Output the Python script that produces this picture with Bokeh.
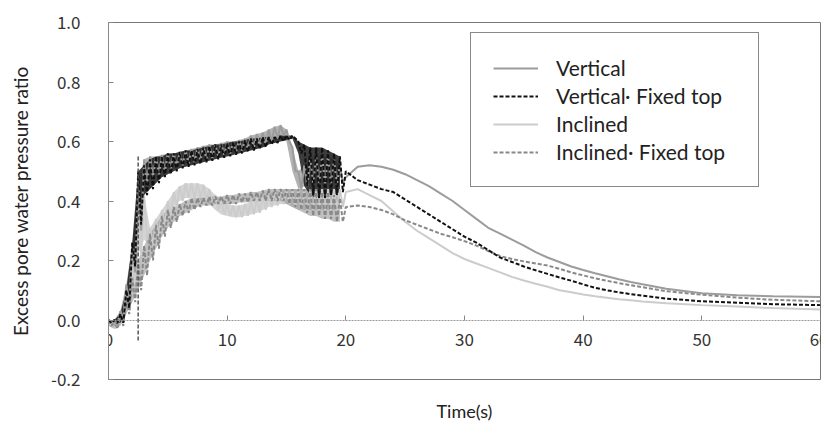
from bokeh.plotting import figure
from bokeh.models import (Range1d, FixedTicker, PrintfTickFormatter, Legend, LegendItem, LinearAxis)
from bokeh.embed import file_html
from bokeh.resources import INLINE

# ---- data ----
# shaking phase: oscillation envelope (upper / lower) sampled every 0.5 s from 0 to 19.5 s
T_SHAKE = [i * 0.5 for i in range(40)]

V_UP = [0.0, 0.0, 0.03, 0.12, 0.25, 0.45, 0.54, 0.55, 0.55, 0.555, 0.56, 0.56, 0.565, 0.57, 0.575, 0.58,
        0.585, 0.59, 0.59, 0.595, 0.60, 0.60, 0.605, 0.61, 0.62, 0.625, 0.63, 0.64, 0.65, 0.655, 0.64,
        0.58, 0.50, 0.52, 0.54, 0.55, 0.55, 0.55, 0.54, 0.52]
V_LO = [-0.01, -0.02, 0.0, 0.05, 0.16, 0.30, 0.46, 0.48, 0.49, 0.50, 0.51, 0.515, 0.52, 0.525, 0.53, 0.535,
        0.54, 0.545, 0.55, 0.555, 0.56, 0.565, 0.57, 0.575, 0.58, 0.585, 0.59, 0.60, 0.61, 0.62, 0.60,
        0.50, 0.44, 0.45, 0.46, 0.46, 0.46, 0.46, 0.46, 0.46]

VF_UP = [0.0, 0.0, 0.02, 0.10, 0.26, 0.50, 0.52, 0.54, 0.55, 0.55, 0.56, 0.56, 0.565, 0.57, 0.57, 0.575,
         0.58, 0.585, 0.59, 0.59, 0.595, 0.60, 0.60, 0.605, 0.61, 0.61, 0.615, 0.615, 0.615, 0.62, 0.62,
         0.62, 0.60, 0.59, 0.58, 0.58, 0.58, 0.57, 0.56, 0.55]
VF_LO = [-0.01, -0.01, -0.01, 0.04, 0.18, 0.32, 0.42, 0.44, 0.46, 0.48, 0.49, 0.50, 0.51, 0.515, 0.52, 0.525,
         0.53, 0.535, 0.54, 0.545, 0.55, 0.555, 0.56, 0.565, 0.57, 0.575, 0.58, 0.59, 0.595, 0.60, 0.605,
         0.61, 0.56, 0.45, 0.42, 0.41, 0.41, 0.42, 0.42, 0.43]
# short vertical excursion of the fixed-top record at about 2.5 s
VF_SPIKE_T = [2.5, 2.5]
VF_SPIKE_V = [0.55, -0.07]

I_UP = [0.0, 0.0, 0.03, 0.10, 0.22, 0.38, 0.42, 0.31, 0.34, 0.37, 0.40, 0.43, 0.45, 0.46, 0.46, 0.46,
        0.455, 0.44, 0.42, 0.40, 0.39, 0.385, 0.385, 0.39, 0.40, 0.41, 0.42, 0.425, 0.43, 0.435, 0.44,
        0.44, 0.44, 0.44, 0.44, 0.44, 0.44, 0.44, 0.44, 0.44]
I_LO = [-0.02, -0.02, 0.0, 0.04, 0.12, 0.22, 0.27, 0.25, 0.28, 0.32, 0.35, 0.38, 0.40, 0.41, 0.41, 0.41,
        0.40, 0.39, 0.37, 0.355, 0.35, 0.345, 0.345, 0.35, 0.355, 0.36, 0.37, 0.38, 0.385, 0.39, 0.39,
        0.38, 0.37, 0.37, 0.37, 0.37, 0.37, 0.37, 0.37, 0.38]

IF_UP = [0.0, 0.0, 0.02, 0.07, 0.14, 0.20, 0.25, 0.29, 0.32, 0.35, 0.37, 0.38, 0.39, 0.40, 0.41, 0.41,
         0.41, 0.415, 0.415, 0.415, 0.42, 0.42, 0.425, 0.425, 0.43, 0.43, 0.435, 0.44, 0.44, 0.44, 0.44,
         0.44, 0.44, 0.44, 0.44, 0.44, 0.43, 0.43, 0.42, 0.41]
IF_LO = [-0.02, -0.03, -0.02, 0.02, 0.06, 0.10, 0.15, 0.20, 0.24, 0.28, 0.31, 0.33, 0.35, 0.36, 0.37, 0.38,
         0.385, 0.385, 0.39, 0.39, 0.39, 0.39, 0.395, 0.395, 0.40, 0.40, 0.40, 0.40, 0.40, 0.40, 0.39,
         0.38, 0.37, 0.36, 0.35, 0.35, 0.34, 0.34, 0.33, 0.33]

# dissipation phase
T_DECAY = [20, 21, 22, 23, 24, 25, 26, 27, 28, 29, 30, 31, 32, 33, 34, 35, 36, 37, 38, 39, 40,
           41, 42, 43, 44, 45, 47, 50, 53, 56, 60]
V_DECAY = [0.48, 0.515, 0.52, 0.515, 0.505, 0.49, 0.47, 0.45, 0.425, 0.40, 0.37, 0.34, 0.31, 0.29,
           0.27, 0.25, 0.228, 0.21, 0.195, 0.18, 0.168, 0.157, 0.147, 0.137, 0.128, 0.12, 0.105,
           0.09, 0.083, 0.08, 0.077]
VF_DECAY = [0.50, 0.47, 0.455, 0.44, 0.43, 0.405, 0.38, 0.355, 0.33, 0.305, 0.28, 0.26, 0.235, 0.21,
            0.195, 0.18, 0.167, 0.155, 0.143, 0.132, 0.12, 0.108, 0.10, 0.093, 0.087, 0.082, 0.072,
            0.063, 0.058, 0.053, 0.05]
I_DECAY = [0.43, 0.44, 0.42, 0.40, 0.365, 0.33, 0.30, 0.275, 0.25, 0.225, 0.205, 0.19, 0.175, 0.16,
           0.145, 0.133, 0.122, 0.112, 0.10, 0.093, 0.086, 0.08, 0.075, 0.07, 0.066, 0.062, 0.056,
           0.05, 0.045, 0.04, 0.035]
IF_DECAY = [0.38, 0.385, 0.38, 0.37, 0.355, 0.335, 0.32, 0.305, 0.29, 0.278, 0.265, 0.25, 0.232, 0.215,
            0.205, 0.197, 0.19, 0.183, 0.172, 0.16, 0.15, 0.14, 0.132, 0.124, 0.117, 0.11, 0.097,
            0.085, 0.075, 0.068, 0.063]

X_TICKS = [0, 10, 20, 30, 40, 50, 60]
Y_TICKS = [-0.2, 0.0, 0.2, 0.4, 0.6, 0.8, 1.0]
LABELS = ["Vertical", "Vertical\u00b7 Fixed top", "Inclined", "Inclined\u00b7 Fixed top"]


def series(up, lo, decay):
    xs, ys = [], []
    for t, u, l in zip(T_SHAKE, up, lo):
        xs += [t, t + 0.25]
        ys += [u, l]
    return xs + list(T_DECAY), ys + list(decay)


p = figure(width=828, height=424, output_backend="svg", toolbar_location=None,
           x_range=Range1d(0, 60), y_range=Range1d(-0.2, 1.0),
           min_border_left=108, min_border_right=8, min_border_top=22, min_border_bottom=44)
p.background_fill_color = "white"
p.border_fill_color = "white"
p.outline_line_color = "#777777"
p.outline_line_width = 1
p.xgrid.visible = False
p.ygrid.visible = False

TICK_FONT = "Noto Sans CJK JP"
TEXT_FONT = "Lato"

xa = p.xaxis[0]
xa.fixed_location = 0
xa.ticker = FixedTicker(ticks=X_TICKS)
xa.major_tick_in = 5
xa.major_tick_out = 0
xa.minor_tick_line_color = None
xa.axis_line_color = "#999999"
xa.axis_line_dash = "2 1"
xa.major_tick_line_color = "#888888"
xa.major_label_text_font = TICK_FONT
xa.major_label_text_font_size = "17px"
xa.major_label_text_color = "#333333"
xa.major_label_standoff = 13

ya = p.yaxis[0]
ya.ticker = FixedTicker(ticks=Y_TICKS)
ya.formatter = PrintfTickFormatter(format="%.1f")
ya.major_tick_in = 5
ya.major_tick_out = 0
ya.minor_tick_line_color = None
ya.axis_line_color = "#888888"
ya.major_tick_line_color = "#888888"
ya.major_label_text_font = TICK_FONT
ya.major_label_text_font_size = "17px"
ya.major_label_text_color = "#333333"
ya.major_label_standoff = 28
ya.axis_label = "Excess pore water pressure ratio"
ya.axis_label_text_font = TEXT_FONT
ya.axis_label_text_font_size = "19px"
ya.axis_label_text_font_style = "normal"
ya.axis_label_text_color = "#222222"
ya.axis_label_standoff = 16

# x title carried by a bare axis under the frame (the tick axis itself sits at y = 0)
title_axis = LinearAxis(ticker=FixedTicker(ticks=[]), axis_line_color=None,
                        major_tick_line_color=None, minor_tick_line_color=None,
                        axis_label="Time(s)", axis_label_text_font=TEXT_FONT,
                        axis_label_text_font_size="18px", axis_label_text_font_style="normal",
                        axis_label_text_color="#222222", axis_label_standoff=20)
p.add_layout(title_axis, "below")

# oscillation bands of the shaking phase
p.varea(x=T_SHAKE, y1=I_LO, y2=I_UP, fill_color="#d0d0d0", fill_alpha=0.9)
p.varea(x=T_SHAKE, y1=IF_LO, y2=IF_UP, fill_color="#8c8c8c", fill_alpha=0.55)
p.varea(x=T_SHAKE, y1=V_LO, y2=V_UP, fill_color="#a0a0a0", fill_alpha=0.8)
p.varea(x=T_SHAKE, y1=VF_LO, y2=VF_UP, fill_color="#1a1a1a", fill_alpha=0.85)

xi, yi = series(I_UP, I_LO, I_DECAY)
xif, yif = series(IF_UP, IF_LO, IF_DECAY)
xv, yv = series(V_UP, V_LO, V_DECAY)
xvf, yvf = series(VF_UP, VF_LO, VF_DECAY)

r_i = p.line(xi, yi, line_color="#cccccc", line_width=2)
r_if = p.line(xif, yif, line_color="#888888", line_width=2, line_dash="4 2")
r_v = p.line(xv, yv, line_color="#9c9c9c", line_width=2)
r_vf = p.line(xvf, yvf, line_color="#111111", line_width=2, line_dash="4 2")
p.line(VF_SPIKE_T, VF_SPIKE_V, line_color="#555555", line_width=1.5, line_dash="4 2")

legend = Legend(items=[LegendItem(label=LABELS[0], renderers=[r_v]),
                       LegendItem(label=LABELS[1], renderers=[r_vf]),
                       LegendItem(label=LABELS[2], renderers=[r_i]),
                       LegendItem(label=LABELS[3], renderers=[r_if])],
                location=(362, 192), padding=22, margin=0, spacing=3,
                glyph_width=45, glyph_height=20, label_height=20, label_width=180, label_standoff=18,
                label_text_font=TEXT_FONT, label_text_font_size="21px", label_text_color="#222222",
                border_line_color="#111111", border_line_width=1.5,
                background_fill_color="white", background_fill_alpha=1.0)
p.add_layout(legend)

open("out.html", "w").write(file_html(p, INLINE))
